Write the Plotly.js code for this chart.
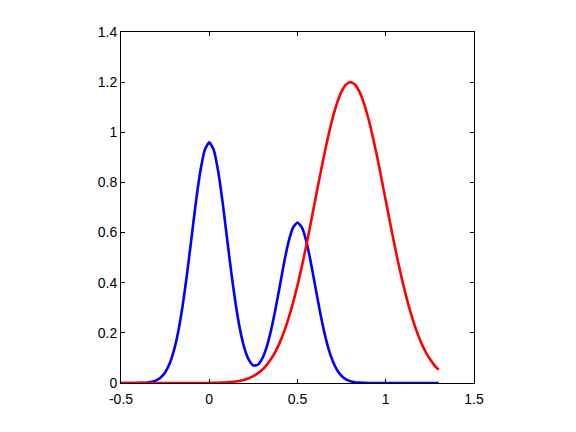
<!DOCTYPE html>
<html>
<head>
<meta charset="utf-8">
<script src="https://cdn.plot.ly/plotly-3.0.1.min.js"></script>
<style>html,body{margin:0;padding:0;background:#fff;}#plot{width:576px;height:432px;}</style>
</head>
<body>
<div id="plot"></div>
<script>
const xValues = [-0.5,-0.475,-0.45,-0.425,-0.4,-0.375,-0.35,-0.325,-0.3,-0.275,-0.25,-0.225,-0.2,-0.175,-0.15,-0.125,-0.1,-0.075,-0.05,-0.025,0,0.025,0.05,0.075,0.1,0.125,0.15,0.175,0.2,0.225,0.25,0.275,0.3,0.325,0.35,0.375,0.4,0.425,0.45,0.475,0.5,0.525,0.55,0.575,0.6,0.625,0.65,0.675,0.7,0.725,0.75,0.775,0.8,0.825,0.85,0.875,0.9,0.925,0.95,0.975,1.0,1.025,1.05,1.075,1.1,1.125,1.15,1.175,1.2,1.225,1.25,1.275,1.3];
const blueValues = [0,0,0,0.0001,0.0003,0.0008,0.002,0.0049,0.0107,0.0219,0.042,0.0764,0.130,0.2076,0.312,0.4395,0.582,0.7246,0.847,0.9304,0.96,0.9304,0.847,0.7247,0.5822,0.4401,0.313,0.2109,0.137,0.0910,0.070,0.0728,0.097,0.1433,0.210,0.2938,0.388,0.4832,0.565,0.6203,0.64,0.6203,0.565,0.4831,0.388,0.2930,0.208,0.1384,0.087,0.0509,0.028,0.0146,0.007,0.0033,0.0014,0.0006,0.0002,0.0001,0,0,0,0,0,0,0,0,0,0,0,0,0,0,0];
const redValues = [0,0,0,0,0,0,0,0,0,0,0,0,0,0,0,0,0.0001,0.0001,0.0001,0.0002,0.0004,0.0007,0.0011,0.0017,0.0026,0.0041,0.0061,0.0091,0.0133,0.0192,0.0274,0.0383,0.0527,0.0715,0.0955,0.1255,0.162,0.2069,0.260,0.3205,0.390,0.4663,0.549,0.6373,0.728,0.8184,0.906,0.9871,1.059,1.1185,1.163,1.1906,1.2,1.1906,1.163,1.1185,1.059,0.9871,0.906,0.8184,0.728,0.6373,0.549,0.4663,0.390,0.3205,0.260,0.2069,0.162,0.1255,0.0955,0.0715,0.0527];
const xTickVals = [-0.5,0,0.5,1,1.5];
const xTickText = ["-0.5","0","0.5","1","1.5"];
const yTickVals = [0,0.2,0.4,0.6,0.8,1,1.2,1.4];
const yTickText = ["0","0.2","0.4","0.6","0.8","1","1.2","1.4"];

const traces = [
  {x: xValues, y: blueValues, type: 'scatter', mode: 'lines', line: {color: '#0000ff', width: 2.6, shape: 'spline', smoothing: 0.5}, hoverinfo: 'skip'},
  {x: xValues, y: redValues, type: 'scatter', mode: 'lines', line: {color: '#ff0000', width: 2.6, shape: 'spline', smoothing: 0.5}, hoverinfo: 'skip'}
];
const axisCommon = {
  showline: true, mirror: 'allticks', linecolor: '#000', linewidth: 1,
  ticks: 'inside', ticklen: 4, tickcolor: '#000', tickwidth: 1,
  showgrid: false, zeroline: false,
  tickfont: {family: '"Liberation Sans Narrow", "Liberation Sans", Arial, sans-serif', size: 14, color: '#000'},
  tickmode: 'array'
};
const layout = {
  width: 576, height: 432,
  margin: {l: 121, r: 102, t: 32, b: 49, pad: 0},
  paper_bgcolor: '#fff', plot_bgcolor: '#fff',
  showlegend: false,
  xaxis: Object.assign({}, axisCommon, {range: [-0.5, 1.5], tickvals: xTickVals, ticktext: xTickText, ticklabelstandoff: 3}),
  yaxis: Object.assign({}, axisCommon, {range: [0, 1.4], tickvals: yTickVals, ticktext: yTickText})
};
Plotly.newPlot('plot', traces, layout, {staticPlot: true, displayModeBar: false});
</script>
</body>
</html>
